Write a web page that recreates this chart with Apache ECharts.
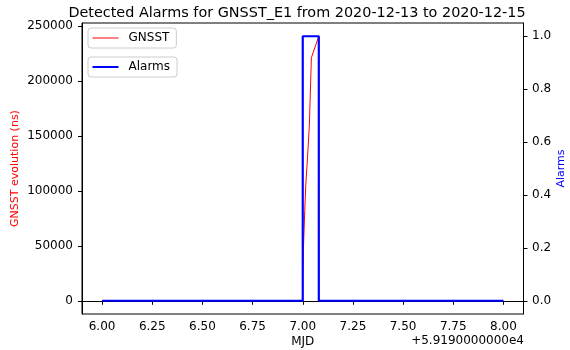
<!DOCTYPE html>
<html>
<head>
<meta charset="utf-8">
<script src="https://cdn.jsdelivr.net/npm/echarts@6/dist/echarts.min.js"></script>
<style>
  html, body { margin: 0; padding: 0; background: #fff; }
  #chart { width: 570px; height: 350px; }
</style>
</head>
<body>
<div id="chart"></div>
<script>
// Epoch offset shown beside the MJD axis
const mjdOffset = 59190;

// GNSST evolution samples (MJD, ns)
const gnsstMjd = [59196.999, 59197.000, 59197.003, 59197.010, 59197.015, 59197.023, 59197.033, 59197.043, 59197.080];
const gnsstNs  = [0, 24000, 46000, 82000, 105000, 128000, 160000, 221000, 240500];

// Alarm flag (step shape)
const alarmMjd = [59196.0, 59197.0, 59197.0, 59197.08, 59197.08, 59198.0];
const alarmVal = [0, 0, 1, 1, 0, 0];

// Tick positions
const mjdTicks   = [59196.00, 59196.25, 59196.50, 59196.75, 59197.00, 59197.25, 59197.50, 59197.75, 59198.00];
const gnsstTicks = [0, 50000, 100000, 150000, 200000, 250000];
const alarmTicks = [0, 0.2, 0.4, 0.6, 0.8, 1.0];

const FONT = 'DejaVu Sans';
const zip = (xs, ys) => xs.map((x, i) => [x, ys[i]]);

// 5% padding around the data, like the plotted range
const pad = (lo, hi) => { const m = (hi - lo) * 0.05; return [lo - m, hi + m]; };
const xr = pad(59196.0, 59198.0);
const yl = pad(0, Math.max(...gnsstNs));
const yr = pad(0, 1);

const legendBase = {
  orient: 'vertical',
  left: 88,
  backgroundColor: 'rgba(255,255,255,0.8)',
  borderColor: '#cccccc',
  borderWidth: 1,
  borderRadius: 3,
  padding: [4, 7, 4, 4.5],
  itemWidth: 26,
  textStyle: { fontFamily: FONT, fontSize: 12, color: '#000', padding: [0, 0, 0, 5] }
};

const chart = echarts.init(document.getElementById('chart'), null, { renderer: 'canvas' });
chart.setOption({
  animation: false,
  backgroundColor: '#ffffff',
  title: {
    text: 'Detected Alarms for GNSST_E1 from 2020-12-13 to 2020-12-15',
    left: 292, top: 1, textAlign: 'center',
    textStyle: { fontFamily: FONT, fontSize: 14.4, fontWeight: 'normal', color: '#000' }
  },
  grid: {
    left: 82, right: 46.5, top: 23, bottom: 36,
    containLabel: false, outerBoundsMode: 'none',
    show: true, borderColor: '#000', borderWidth: 1, backgroundColor: 'transparent'
  },
  legend: [
    Object.assign({}, legendBase, {
      top: 28, itemHeight: 1,
      data: [{ name: 'GNSST', icon: 'rect' }]
    }),
    Object.assign({}, legendBase, {
      top: 57, itemHeight: 2,
      data: [{ name: 'Alarms', icon: 'rect' }]
    })
  ],
  xAxis: {
    type: 'value', min: xr[0], max: xr[1],
    name: 'MJD', nameLocation: 'middle', nameGap: 22, nameMoveOverlap: false,
    nameTextStyle: { fontFamily: FONT, fontSize: 12, color: '#000' },
    axisLine: { show: true, lineStyle: { color: '#000', width: 1 } },
    axisTick: { show: true, length: 4, lineStyle: { color: '#000' }, customValues: mjdTicks },
    axisLabel: { margin: 7, fontFamily: FONT, fontSize: 12, color: '#000',
      customValues: mjdTicks, formatter: v => (v - mjdOffset).toFixed(2) },
    splitLine: { show: false }
  },
  yAxis: [
    {
      type: 'value', min: yl[0], max: yl[1], position: 'left',
      name: 'GNSST evolution (ns)', nameLocation: 'middle', nameGap: 61, nameRotate: 90, nameMoveOverlap: false,
      nameTextStyle: { fontFamily: FONT, fontSize: 11, color: '#ff0000' },
      axisLine: { show: true, lineStyle: { color: '#000', width: 1 } },
      axisTick: { show: true, length: 4, lineStyle: { color: '#000' }, customValues: gnsstTicks },
      axisLabel: { margin: 9, fontFamily: FONT, fontSize: 12, color: '#000',
        customValues: gnsstTicks, formatter: v => String(Math.round(v)) },
      splitLine: { show: false }
    },
    {
      type: 'value', min: yr[0], max: yr[1], position: 'right',
      name: 'Alarms', nameLocation: 'middle', nameGap: 32, nameRotate: 90, nameMoveOverlap: false,
      nameTextStyle: { fontFamily: FONT, fontSize: 11, color: '#0000ff' },
      axisLine: { show: true, lineStyle: { color: '#000', width: 1 } },
      axisTick: { show: true, length: 4, lineStyle: { color: '#000' }, customValues: alarmTicks },
      axisLabel: { margin: 8.5, fontFamily: FONT, fontSize: 12, color: '#000',
        customValues: alarmTicks, formatter: v => v.toFixed(1) },
      splitLine: { show: false }
    }
  ],
  graphic: [
    {
      type: 'text', right: 570 - 524, top: 335,
      style: { text: '+5.9190000000e4', fontFamily: FONT, fontSize: 12, fill: '#000', textAlign: 'right' }
    }
  ],
  series: [
    {
      name: 'GNSST', type: 'line', yAxisIndex: 0,
      data: zip(gnsstMjd, gnsstNs),
      showSymbol: false, symbol: 'none',
      lineStyle: { color: '#ff0000', width: 1 }, itemStyle: { color: '#ff0000' }
    },
    {
      name: 'Alarms', type: 'line', yAxisIndex: 1,
      data: zip(alarmMjd, alarmVal),
      showSymbol: false, symbol: 'none',
      lineStyle: { color: '#0000ff', width: 2.2 }, itemStyle: { color: '#0000ff' }
    }
  ]
});
</script>
</body>
</html>
